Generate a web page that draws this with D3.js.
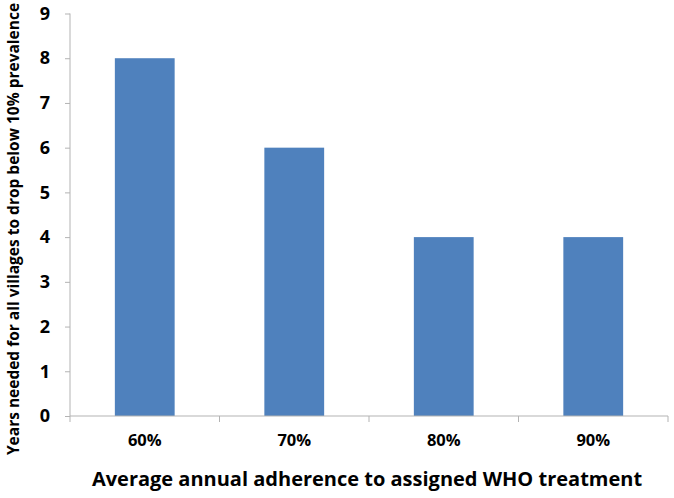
<!DOCTYPE html>
<html>
<head>
<meta charset="utf-8">
<script src="https://cdn.jsdelivr.net/npm/d3@7"></script>
<style>
  body { margin: 0; background: #fff; }
  text { font-family: "Open Sans", Lato, sans-serif; font-weight: bold; fill: #000; }
</style>
</head>
<body>
<svg></svg>
<script>
var categories = ["60%", "70%", "80%", "90%"];
var years = [8, 6, 4, 4];
var yTicks = [0, 1, 2, 3, 4, 5, 6, 7, 8, 9];

var width = 674;
var height = 498;

var svg = d3.select("svg")
            .attr("width", width)
            .attr("height", height);

var plotLeft = 70, plotRight = 668, plotTop = 13.5, plotBottom = 416;

var xScale = d3.scaleBand()
               .domain(categories)
               .range([plotLeft, plotRight])
               .paddingInner(0.6)
               .paddingOuter(0.3);

var yScale = d3.scaleLinear()
               .domain([0, 9])
               .range([plotBottom, plotTop]);

var axisColor = "#b3b3b3";

// bars
svg.selectAll("rect.bar")
   .data(years)
   .enter().append("rect")
   .attr("class", "bar")
   .attr("x", (d, i) => xScale(categories[i]))
   .attr("y", d => yScale(d))
   .attr("width", xScale.bandwidth())
   .attr("height", d => plotBottom - yScale(d))
   .attr("fill", "#4f81bd");

// y axis
var yAxis = svg.append("g")
   .attr("transform", "translate(" + plotLeft + ",0)")
   .call(d3.axisLeft(yScale).tickValues(yTicks).tickSize(5).tickPadding(15).tickFormat(d3.format("d")));
yAxis.select(".domain").attr("stroke", axisColor).attr("d", "M0," + plotTop + "V" + plotBottom);
yAxis.selectAll(".tick line").attr("stroke", axisColor);
yAxis.selectAll(".tick text").style("font-size", "18px").style("font-family", "\"Open Sans\", sans-serif");

// x axis with boundary ticks between categories
var xAxis = svg.append("g")
   .attr("transform", "translate(0," + plotBottom + ")");
xAxis.append("line")
   .attr("x1", plotLeft).attr("x2", plotRight)
   .attr("y1", 0).attr("y2", 0)
   .attr("stroke", axisColor);
var step = xScale.step();
var bounds = d3.range(categories.length + 1).map(i => plotLeft + i * step);
xAxis.selectAll("line.tick")
   .data(bounds)
   .enter().append("line")
   .attr("class", "tick")
   .attr("x1", d => d).attr("x2", d => d)
   .attr("y1", 0).attr("y2", 6)
   .attr("stroke", axisColor);
xAxis.selectAll("text.cat")
   .data(categories)
   .enter().append("text")
   .attr("class", "cat")
   .attr("x", d => xScale(d) + xScale.bandwidth() / 2)
   .attr("y", 30)
   .attr("text-anchor", "middle")
   .style("font-size", "16.5px")
   .text(d => d);

// axis titles
svg.append("text")
   .attr("x", (plotLeft + plotRight) / 2 - 2)
   .attr("y", 486)
   .attr("text-anchor", "middle")
   .style("font-size", "20px")
   .text("Average annual adherence to assigned WHO treatment");

svg.append("text")
   .attr("transform", "translate(19," + 229 + ") rotate(-90)")
   .attr("text-anchor", "middle")
   .style("font-size", "15.5px")
   .text("Years needed for all villages to drop below 10% prevalence");
</script>
</body>
</html>
